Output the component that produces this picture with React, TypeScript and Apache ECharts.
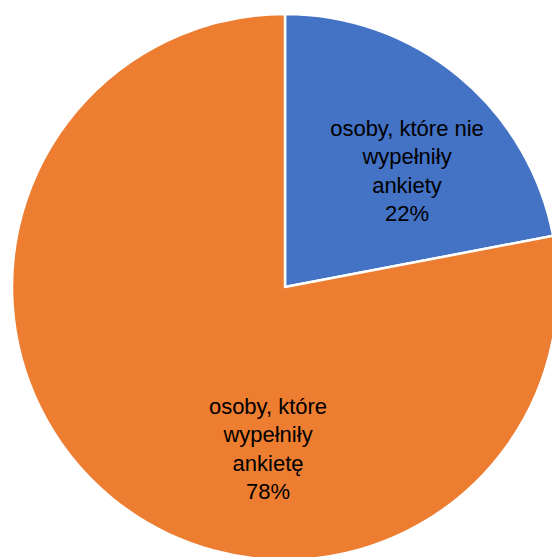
import React, { useEffect, useRef } from "react";
import * as echarts from "echarts";

const categories = ["osoby, które nie\nwypełniły\nankiety", "osoby, które\nwypełniły\nankietę"];
const values = [22, 78];
const colors = ["#4472C4", "#ED7D31"];
const labelSpots = [
  [407, 171],
  [268, 449],
];

export default function App() {
  const ref = useRef<HTMLDivElement>(null);
  useEffect(() => {
    if (!ref.current) return;
    const chart = echarts.init(ref.current, undefined, { renderer: "svg" });
    chart.setOption({
      animation: false,
      backgroundColor: "#ffffff",
      series: [
        {
          type: "pie",
          center: [285, 287],
          radius: 273,
          startAngle: 90,
          clockwise: true,
          silent: true,
          itemStyle: { borderColor: "#ffffff", borderWidth: 2.5 },
          label: {
            show: true,
            position: "inside",
            color: "#000000",
            fontFamily: "Liberation Sans",
            fontSize: 22,
            lineHeight: 28.5,
            align: "center",
            formatter: (p: any) => `${p.name}\n${Math.round(p.percent)}%`,
          },
          labelLine: { show: false },
          labelLayout: (p: any) => ({
            x: labelSpots[p.dataIndex][0],
            y: labelSpots[p.dataIndex][1],
            align: "center",
            verticalAlign: "middle",
          }),
          emphasis: { disabled: true },
          data: categories.map((name, i) => ({
            name,
            value: values[i],
            itemStyle: { color: colors[i] },
          })),
        },
      ],
    });
    return () => chart.dispose();
  }, []);
  return (
    <div
      ref={ref}
      style={{ position: "absolute", left: 0, top: 0, width: 552, height: 557 }}
    />
  );
}
